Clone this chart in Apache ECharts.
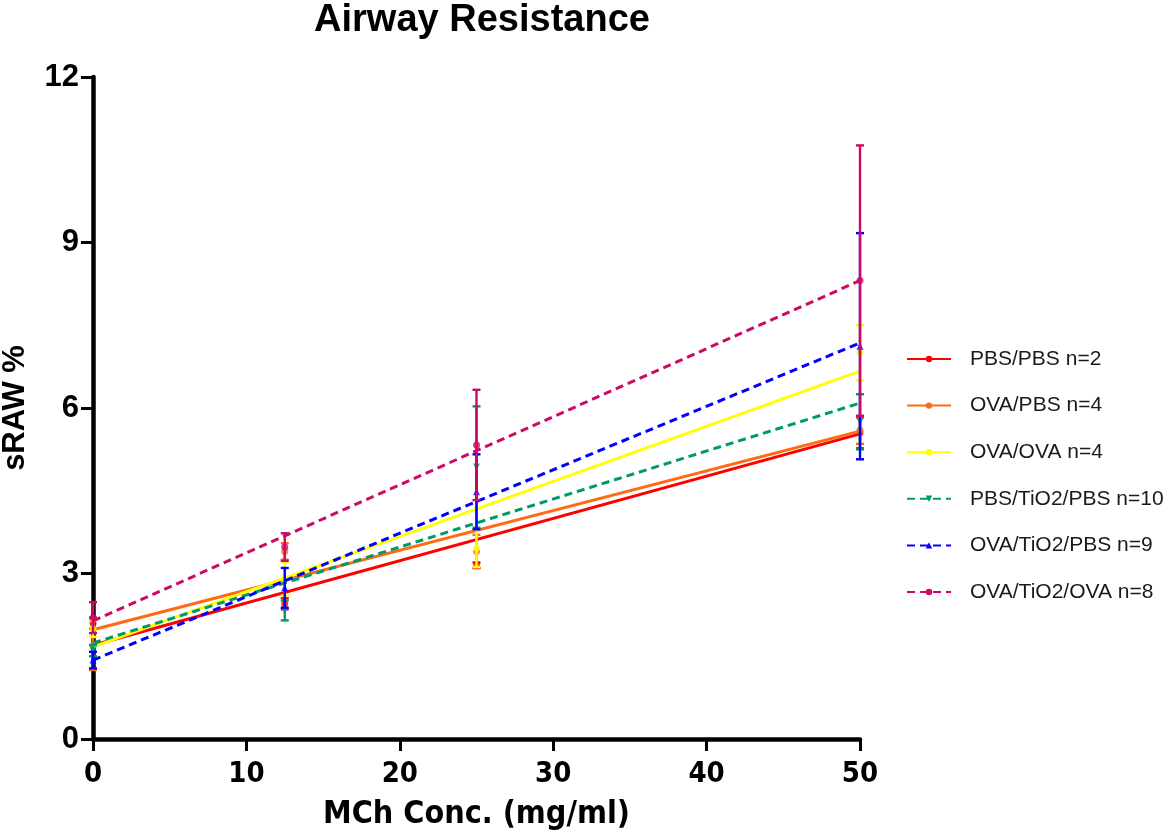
<!DOCTYPE html>
<html>
<head>
<meta charset="utf-8">
<script src="https://cdn.jsdelivr.net/npm/echarts@6/dist/echarts.min.js"></script>
<style>
html,body{margin:0;padding:0;background:#fff;}
#chart{width:1176px;height:836px;}
</style>
</head>
<body>
<div id="chart"></div>
<script>
// ---- data ----
const doses = [0, 12.5, 25, 50];
const groupNames = ['PBS/PBS n=2', 'OVA/PBS n=4', 'OVA/OVA n=4', 'PBS/TiO2/PBS n=10', 'OVA/TiO2/PBS n=9', 'OVA/TiO2/OVA n=8'];
const meanPbsPbs      = [2.10, 2.45, 3.15, 5.55];
const errPbsPbs       = [0.10, 0.10, 0.05, 0.28];
const meanOvaPbs      = [1.70, 3.40, 3.40, 5.60];
const errOvaPbs       = [0.45, 0.15, 0.30, 0.25];
const meanOvaOva      = [2.00, 2.90, 3.46, 7.00];
const errOvaOva       = [0.15, 0.30, 0.34, 0.50];
const meanPbsTiPbs    = [1.60, 2.33, 4.93, 5.75];
const errPbsTiPbs     = [0.10, 0.18, 1.10, 0.50];
const meanOvaTiPbs    = [1.43, 2.74, 4.48, 7.12];
const errOvaTiPbs     = [0.15, 0.36, 0.68, 2.05];
const meanOvaTiOva    = [2.20, 3.48, 5.33, 8.31];
const errOvaTiOva     = [0.28, 0.25, 1.00, 2.45];
// linear-fit line values at x = 0 and x = 50
const fitX   = [0, 50];
const fitPbsPbs   = [1.70, 5.53];
const fitOvaPbs   = [1.98, 5.58];
const fitOvaOva   = [1.67, 6.67];
const fitPbsTiPbs = [1.74, 6.09];
const fitOvaTiPbs = [1.43, 7.18];
const fitOvaTiOva = [2.14, 8.31];
const yTicks = [0, 3, 6, 9, 12];
const xTicks = [0, 10, 20, 30, 40, 50];

// ---- styling ----
const groups = [
  {name: groupNames[0], mean: meanPbsPbs,   err: errPbsPbs,   fit: fitPbsPbs,   color: '#ff0000', dash: 'solid',  symbol: 'circle',   rot: 0},
  {name: groupNames[1], mean: meanOvaPbs,   err: errOvaPbs,   fit: fitOvaPbs,   color: '#ff6a13', dash: 'solid',  symbol: 'circle',   rot: 0},
  {name: groupNames[2], mean: meanOvaOva,   err: errOvaOva,   fit: fitOvaOva,   color: '#ffff00', dash: 'solid',  symbol: 'circle',   rot: 0},
  {name: groupNames[3], mean: meanPbsTiPbs, err: errPbsTiPbs, fit: fitPbsTiPbs, color: '#00996a', dash: [8, 5],   symbol: 'triangle', rot: 180},
  {name: groupNames[4], mean: meanOvaTiPbs, err: errOvaTiPbs, fit: fitOvaTiPbs, color: '#0000ff', dash: [8, 5],   symbol: 'triangle', rot: 0},
  {name: groupNames[5], mean: meanOvaTiOva, err: errOvaTiOva, fit: fitOvaTiOva, color: '#cc0a66', dash: [8, 5],   symbol: 'circle',   rot: 0}
];

const series = [];
groups.forEach(function (g, gi) {
  const color = g.color;
  series.push({
    name: g.name + ' err',
    type: 'custom',
    z: 2 + gi,
    clip: false,
    data: doses.map(function (d, i) { return [d, g.mean[i] - g.err[i], g.mean[i] + g.err[i]]; }),
    encode: {x: 0, y: [1, 2]},
    renderItem: function (params, api) {
      const x = api.value(0);
      const pHi = api.coord([x, api.value(2)]);
      const pLo = api.coord([x, api.value(1)]);
      const w = 4;
      const st = {stroke: color, lineWidth: 2.4};
      return {type: 'group', children: [
        {type: 'line', shape: {x1: pHi[0], y1: pHi[1], x2: pLo[0], y2: pLo[1]}, style: st},
        {type: 'line', shape: {x1: pHi[0] - w, y1: pHi[1], x2: pHi[0] + w, y2: pHi[1]}, style: st},
        {type: 'line', shape: {x1: pLo[0] - w, y1: pLo[1], x2: pLo[0] + w, y2: pLo[1]}, style: st}
      ]};
    }
  });
  series.push({
    name: g.name + ' pts',
    type: 'scatter',
    z: 2 + gi,
    clip: false,
    symbol: g.symbol,
    symbolRotate: g.rot,
    symbolSize: 7,
    itemStyle: {color: color},
    data: doses.map(function (d, i) { return [d, g.mean[i]]; })
  });
  series.push({
    name: g.name,
    type: 'line',
    z: 2 + gi,
    clip: false,
    symbol: g.symbol,
    symbolRotate: g.rot,
    showSymbol: false,
    lineStyle: {color: color, width: 3, type: g.dash},
    itemStyle: {color: color},
    data: fitX.map(function (x, i) { return [x, g.fit[i]]; })
  });
});

const chart = echarts.init(document.getElementById('chart'));
chart.setOption({
  backgroundColor: '#ffffff',
  animation: false,
  title: {
    text: 'Airway Resistance',
    left: 477,
    textAlign: 'center',
    top: -3,
    textStyle: {fontFamily: 'Liberation Sans, Arial, sans-serif', fontWeight: 'bold', fontSize: 38, color: '#000'}
  },
  legend: {
    data: groupNames,
    orient: 'vertical',
    left: 901,
    top: 342,
    itemWidth: 44,
    itemHeight: 8,
    itemGap: 22.6,
    textStyle: {fontFamily: 'Liberation Sans, Arial, sans-serif', fontSize: 21, color: '#1a1a1a', lineHeight: 24, padding: [0, 0, 0, 14]}
  },
  grid: {left: 93, right: 316, top: 77, bottom: 97, containLabel: false, outerBoundsMode: 'none'},
  xAxis: {
    type: 'value',
    min: xTicks[0],
    max: xTicks[xTicks.length - 1],
    interval: 10,
    name: 'MCh Conc. (mg/ml)',
    nameLocation: 'middle',
    nameGap: 60,
    nameTextStyle: {fontFamily: 'Liberation Sans Narrow, DejaVu Sans Condensed, Arial, sans-serif', fontWeight: 'bold', fontSize: 32, color: '#000'},
    axisLine: {show: true, lineStyle: {color: '#000', width: 4.5}},
    axisTick: {show: true, inside: false, length: 12, lineStyle: {color: '#000', width: 3}},
    axisLabel: {margin: 21, fontFamily: 'Liberation Sans Narrow, DejaVu Sans Condensed, Arial, sans-serif', fontWeight: 'bold', fontSize: 29, color: '#000'},
    splitLine: {show: false}
  },
  yAxis: {
    type: 'value',
    min: yTicks[0],
    max: yTicks[yTicks.length - 1],
    interval: 3,
    name: 'sRAW %',
    nameLocation: 'middle',
    nameGap: 62,
    nameRotate: 90,
    nameTextStyle: {fontFamily: 'Liberation Sans, Arial, sans-serif', fontWeight: 'bold', fontSize: 31, color: '#000'},
    axisLine: {show: true, lineStyle: {color: '#000', width: 4.5}},
    axisTick: {show: true, inside: false, length: 12, lineStyle: {color: '#000', width: 3}},
    axisLabel: {margin: 14, fontFamily: 'Liberation Sans, Arial, sans-serif', fontWeight: 'bold', fontSize: 31, color: '#000'},
    splitLine: {show: false}
  },
  series: series
});
</script>
</body>
</html>
